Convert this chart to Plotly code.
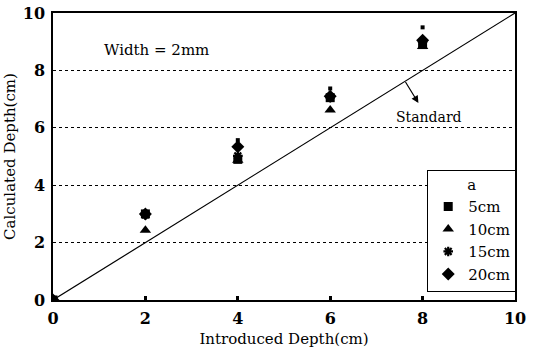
import plotly.graph_objects as go

introduced = [0, 2, 4, 6, 8]
sq_5cm = [0, 3.0, 4.9, 7.05, 8.9]
tri_10cm = [0, 2.43, 4.87, 6.62, 8.83]
star_15cm = [0, 2.97, 5.02, 7.06, 9.0]
dia_20cm = [0, 3.0, 5.34, 7.1, 9.05]
extra_x = [4, 6, 8]
extra_y = [5.57, 7.37, 9.5]
standard_x = [0, 10]
standard_y = [0, 10]

FONT = "DejaVu Serif"

fig = go.Figure()
fig.add_trace(go.Scatter(x=standard_x, y=standard_y, mode="lines",
                         line=dict(color="black", width=1.2), showlegend=False, hoverinfo="skip"))
fig.add_trace(go.Scatter(x=introduced, y=sq_5cm, mode="markers", name="5cm",
                         marker=dict(symbol="square", size=9, color="black")))
fig.add_trace(go.Scatter(x=introduced, y=tri_10cm, mode="markers", name="10cm",
                         marker=dict(symbol="triangle-up", size=10, color="black")))
fig.add_trace(go.Scatter(x=introduced, y=star_15cm, mode="markers", name="15cm",
                         marker=dict(symbol="asterisk", size=8, color="black",
                                     line=dict(color="black", width=2.2))))
fig.add_trace(go.Scatter(x=introduced, y=dia_20cm, mode="markers", name="20cm",
                         marker=dict(symbol="diamond", size=10, color="black")))
fig.add_trace(go.Scatter(x=extra_x, y=extra_y, mode="markers", showlegend=False,
                         marker=dict(symbol="square", size=4, color="black")))

fig.add_annotation(x=2.25, y=8.72, text="Width = 2mm", showarrow=False,
                   font=dict(family=FONT, size=15, color="black"))
fig.add_annotation(x=8.14, y=6.39, text="Standard", showarrow=False,
                   font=dict(family=FONT, size=14, color="black"))
fig.add_annotation(x=7.91, y=6.86, ax=7.61, ay=7.65, axref="x", ayref="y",
                   text="", showarrow=True, arrowhead=2, arrowsize=1.2,
                   arrowwidth=1.2, arrowcolor="black")

tickfont = dict(family=FONT, size=16, color="black", weight="bold")
axis_common = dict(showline=True, linecolor="black", linewidth=1.5, mirror=True,
                   range=[0, 10], dtick=2, zeroline=False, automargin=False,
                   tickfont=tickfont)

fig.update_layout(
    width=536, height=348,
    margin=dict(l=53, r=21, t=13, b=48),
    plot_bgcolor="white", paper_bgcolor="white",
    font=dict(family=FONT, color="black"),
    xaxis=dict(**axis_common, showgrid=False, ticks="inside", ticklen=4, tickwidth=3,
               tickcolor="black", ticklabelstandoff=3,
               title=dict(text="Introduced Depth(cm)", font=dict(family=FONT, size=15), standoff=8)),
    yaxis=dict(**axis_common, showgrid=True, gridcolor="black", griddash="dot", gridwidth=1,
               ticks="", ticklabelstandoff=3,
               title=dict(text="Calculated Depth(cm)", font=dict(family=FONT, size=15), standoff=4)),
    legend=dict(x=0.81, y=0.454, xanchor="left", yanchor="top",
                bgcolor="white", bordercolor="black", borderwidth=1,
                font=dict(family=FONT, size=15, color="black"),
                title=dict(text="a", side="top center", font=dict(family=FONT, size=15)),
                tracegroupgap=0, itemwidth=30),
)

fig.write_html("out.html", config={"displayModeBar": False},
               post_script="document.body.style.margin='0';")
